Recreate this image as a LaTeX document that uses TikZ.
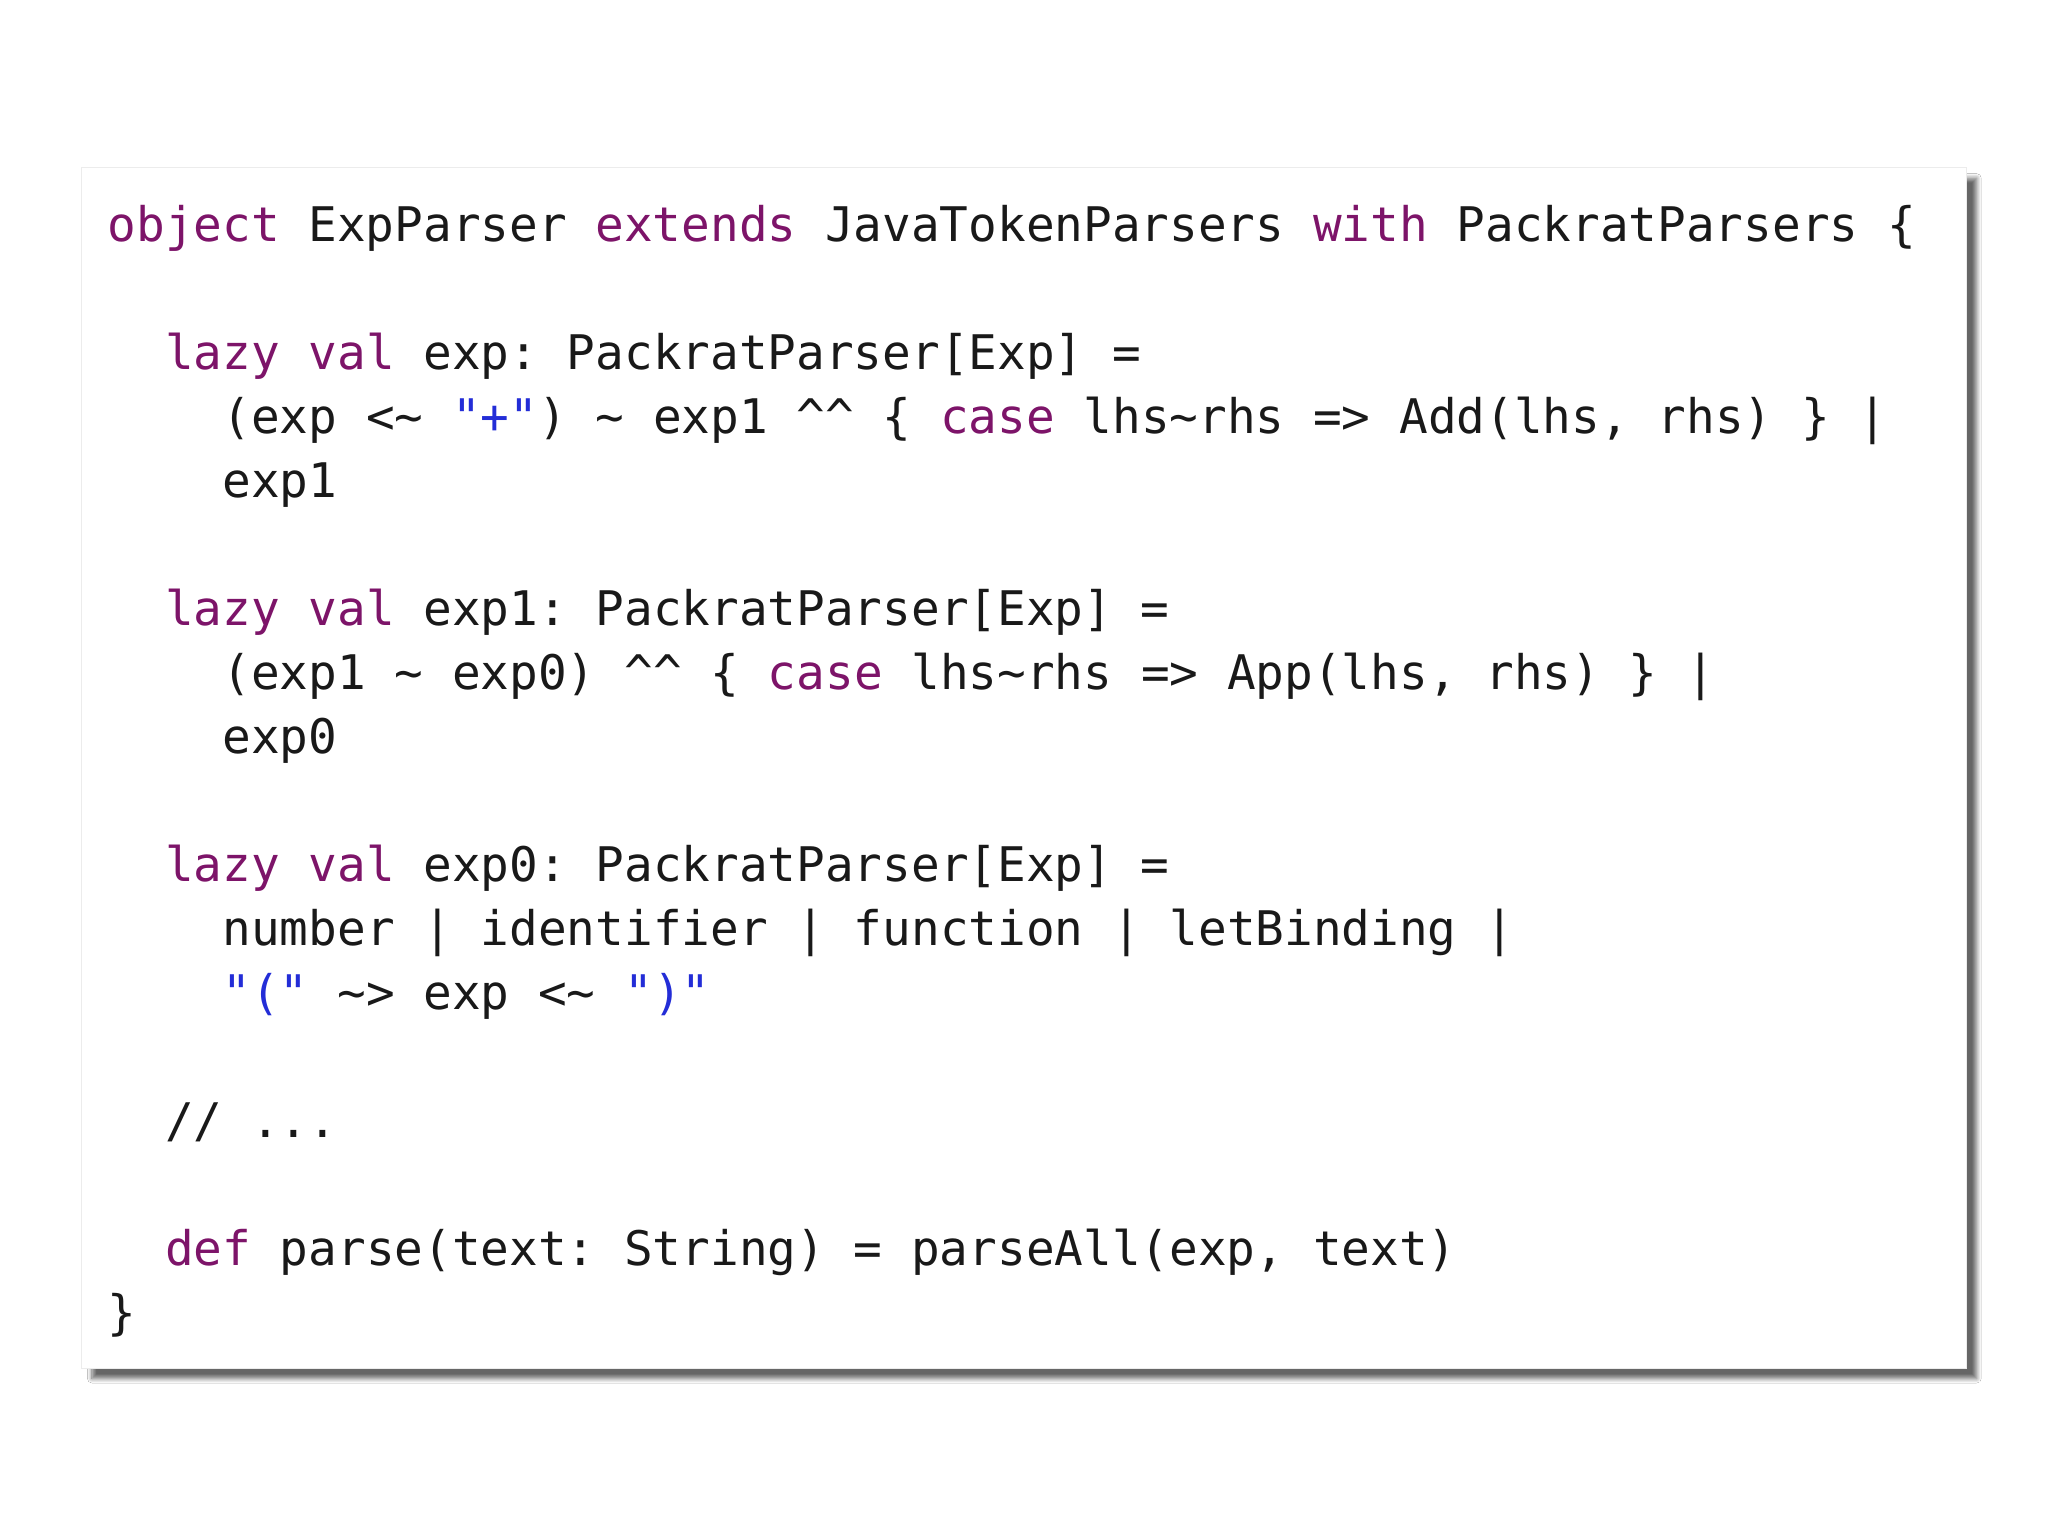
\documentclass[tikz,border=0pt]{standalone}
\usepackage{fontspec}
\setmonofont{DejaVu Sans Mono}
\usetikzlibrary{shadows.blur}
\definecolor{kw}{RGB}{125,20,105}
\definecolor{str}{RGB}{35,45,215}
\definecolor{txt}{RGB}{25,25,25}
\newcommand{\K}[1]{\textcolor{kw}{#1}}
\newcommand{\Sg}[1]{\textcolor{str}{#1}}
\newcommand{\T}{\textasciitilde}
\newcommand{\C}{\textasciicircum\textasciicircum}
\tikzset{codeline/.style={anchor=base west,inner sep=0pt,font=\fontsize{18.25pt}{24pt}\ttfamily,text=txt}}
\begin{document}
\begin{tikzpicture}[x=0.5pt,y=-0.5pt]
\useasboundingbox (0,0) rectangle (1568,1176);
\fill[white] (0,0) rectangle (1568,1176);
\node[draw=gray!15,fill=white,minimum width=721.5pt,minimum height=459.5pt,anchor=north west,inner sep=0pt,
  blur shadow={shadow xshift=4pt,shadow yshift=-4pt,shadow blur steps=8,shadow opacity=60}] (box) at (62,128) {};
\def\bl#1{#1*49+185}
\node[codeline] (l1) at (82,{0*49+185}) {\K{object} ExpParser \K{extends} JavaTokenParsers \K{with} PackratParsers \{};
\node[codeline] (l3) at (126,{2*49+185}) {\K{lazy} \K{val} exp: PackratParser[Exp] =};
\node[codeline] (l4) at (170,{3*49+185}) {(exp <\T{} \Sg{"+"}) \T{} exp1 \C{} \{ \K{case} lhs\T{}rhs => Add(lhs, rhs) \} |};
\node[codeline] (l5) at (170,{4*49+185}) {exp1};
\node[codeline] (l7) at (126,{6*49+185}) {\K{lazy} \K{val} exp1: PackratParser[Exp] =};
\node[codeline] (l8) at (170,{7*49+185}) {(exp1 \T{} exp0) \C{} \{ \K{case} lhs\T{}rhs => App(lhs, rhs) \} |};
\node[codeline] (l9) at (170,{8*49+185}) {exp0};
\node[codeline] (l11) at (126,{10*49+185}) {\K{lazy} \K{val} exp0: PackratParser[Exp] =};
\node[codeline] (l12) at (170,{11*49+185}) {number | identifier | function | letBinding |};
\node[codeline] (l13) at (170,{12*49+185}) {\Sg{"("} \T{}> exp <\T{} \Sg{")"}};
\node[codeline] (l15) at (126,{14*49+185}) {// ...};
\node[codeline] (l17) at (126,{16*49+185}) {\K{def} parse(text: String) = parseAll(exp, text)};
\node[codeline] (l18) at (82,{17*49+185}) {\}};
\end{tikzpicture}
\end{document}
